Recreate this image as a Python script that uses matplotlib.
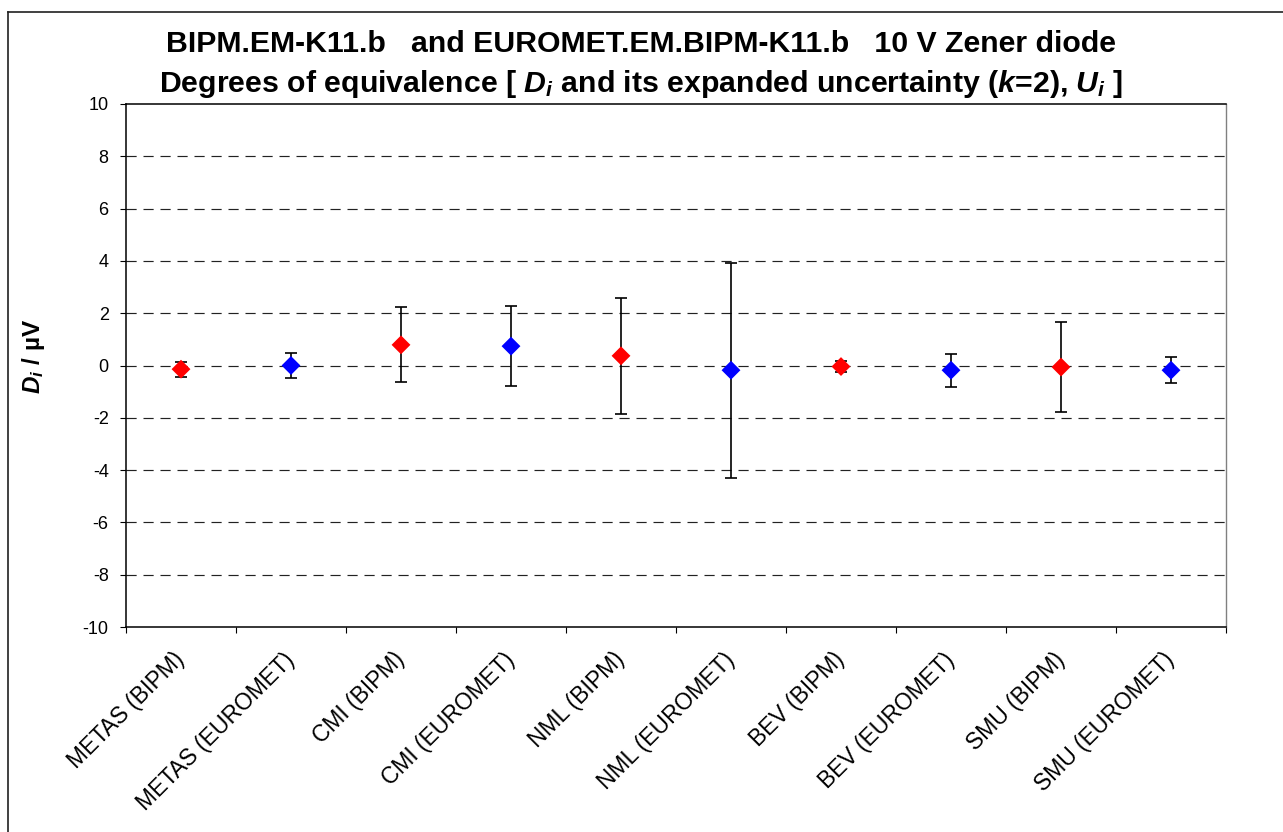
import matplotlib
matplotlib.use("Agg")
import matplotlib.pyplot as plt
import numpy as np
from matplotlib.lines import Line2D
from matplotlib.ticker import FixedLocator, NullFormatter

# data
labels = ['METAS (BIPM)', 'METAS (EUROMET)', 'CMI (BIPM)', 'CMI (EUROMET)',
          'NML (BIPM)', 'NML (EUROMET)', 'BEV (BIPM)', 'BEV (EUROMET)',
          'SMU (BIPM)', 'SMU (EUROMET)']
d_values = [-0.14, 0.0, 0.79, 0.74, 0.37, -0.18, -0.04, -0.18, -0.06, -0.18]
u_values = [0.29, 0.49, 1.44, 1.53, 2.21, 4.11, 0.22, 0.63, 1.72, 0.49]
colors = ['#ff0000', '#0000ff'] * 5
y_ticks = [-10, -8, -6, -4, -2, 0, 2, 4, 6, 8, 10]

plt.rcParams['font.family'] = ['Liberation Sans', 'DejaVu Sans']
plt.rcParams['axes.unicode_minus'] = False
plt.rcParams['mathtext.fontset'] = 'custom'
plt.rcParams['mathtext.rm'] = 'Liberation Sans:bold'
plt.rcParams['mathtext.bf'] = 'Liberation Sans:bold'
plt.rcParams['mathtext.it'] = 'Liberation Sans:italic:bold'

W, H = 1283, 832
fig = plt.figure(figsize=(W / 100, H / 100), dpi=100)
ax = fig.add_axes([126 / W, 1 - 627 / H, 1100 / W, 523 / H])

x = np.arange(len(labels)) + 0.5

ax.errorbar(x, d_values, yerr=u_values, fmt='none', ecolor='black',
            elinewidth=1.2, capsize=4.5, capthick=1.2, zorder=3)
ax.scatter(x, d_values, marker='D', s=9.6 ** 2, c=colors, linewidths=0, zorder=4)

ax.set_xlim(0, len(labels))
ax.set_ylim(-10, 10)

# grid
for yv in y_ticks[1:-1]:
    ax.axhline(yv, color='#222222', lw=0.85, linestyle=(0, (8.6, 5.8)), zorder=1)

# y axis
ax.set_yticks(y_ticks)
ax.set_yticklabels([str(v) for v in y_ticks])
ax.tick_params(axis='y', direction='out', length=4.5, width=0.8, pad=8, labelsize=13)

# x axis: ticks between categories, labels at categories
ax.xaxis.set_major_locator(FixedLocator(np.arange(0, len(labels) + 1)))
ax.xaxis.set_major_formatter(NullFormatter())
ax.xaxis.set_minor_locator(FixedLocator(x))
ax.set_xticklabels(labels, minor=True, rotation=45, ha='right', va='center',
                   rotation_mode='anchor', fontsize=16.5)
ax.tick_params(axis='x', which='major', direction='out', length=4.5, width=0.8)
ax.tick_params(axis='x', which='minor', length=0, pad=21)

for side in ['left', 'bottom', 'top']:
    ax.spines[side].set_color('black')
    ax.spines[side].set_linewidth(1.1)
ax.spines['right'].set_color('#808080')
ax.spines['right'].set_linewidth(1.0)

ax.set_ylabel('$D_i$ / µV', fontsize=17.5, fontweight='bold')
ax.yaxis.set_label_coords(-0.072, 0.518)

# title
fig.text(0.5, 1 - 52 / H, 'BIPM.EM-K11.b   and EUROMET.EM.BIPM-K11.b   10 V Zener diode',
         ha='center', va='baseline', fontsize=21.8, fontweight='bold')
fig.text(0.5, 1 - 92 / H,
         'Degrees of equivalence [ $D_i$ and its expanded uncertainty ($k$=2), $U_i$ ]',
         ha='center', va='baseline', fontsize=21.8, fontweight='bold')

# outer chart border (left and top visible)
fig.add_artist(Line2D([8 / W, 1.01], [1 - 12 / H, 1 - 12 / H], color='#202020', lw=1.2))
fig.add_artist(Line2D([8 / W, 8 / W], [1 - 12 / H, -0.01], color='#202020', lw=1.2))

fig.savefig('out.png', dpi=100)
